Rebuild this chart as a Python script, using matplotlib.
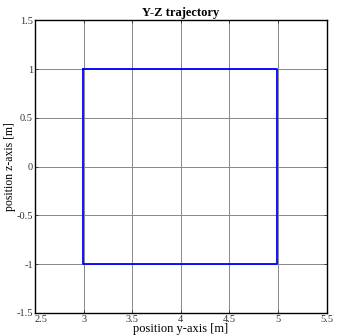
import matplotlib
matplotlib.use('Agg')
import matplotlib.pyplot as plt

# corner points of the Y-Z path (closed square)
posY = [2.99, 4.99, 4.99, 2.99, 2.99]
posZ = [1.0, 1.0, -1.0, -1.0, 1.0]
xTicks = [2.5, 3, 3.5, 4, 4.5, 5, 5.5]
yTicks = [-1.5, -1, -0.5, 0, 0.5, 1, 1.5]

plt.rcParams['font.family'] = ['Liberation Serif', 'DejaVu Serif']

fig = plt.figure(figsize=(3.38, 3.36), dpi=100)
ax = fig.add_axes([0.1036, 0.0685, 0.863, 0.8705])
ax.plot(posY, posZ, color='#0000ff', linewidth=1.3)

ax.set_xlim(2.5, 5.5)
ax.set_ylim(-1.5, 1.5)
ax.set_xticks(xTicks)
ax.set_yticks(yTicks)
ax.set_xticklabels(['2.5', '3', '3.5', '4', '4.5', '5', '5.5'])
ax.set_yticklabels(['-1.5', '-1', '-0.5', '0', '0.5', '1', '1.5'])
ax.grid(True, color='#888888', linewidth=0.7)
ax.set_axisbelow(True)
ax.tick_params(direction='in', length=2.5, width=0.6, labelsize=7.5,
               top=True, right=True, pad=1.5, colors='#333333', labelcolor='#333333')
# first x label sits just right of the corner so it clears the -1.5 label
ax.get_xticklabels()[0].set_horizontalalignment('left')
for s in ax.spines.values():
    s.set_linewidth(1.0)
    s.set_color('black')

ax.set_title('Y-Z trajectory', fontsize=9, fontweight='bold', pad=3)
ax.set_xlabel('position y-axis [m]', fontsize=9, labelpad=-1)
ax.set_ylabel('position z-axis [m]', fontsize=8.5, labelpad=0)

plt.savefig('out.png', dpi=100)
print('Script Complete')
